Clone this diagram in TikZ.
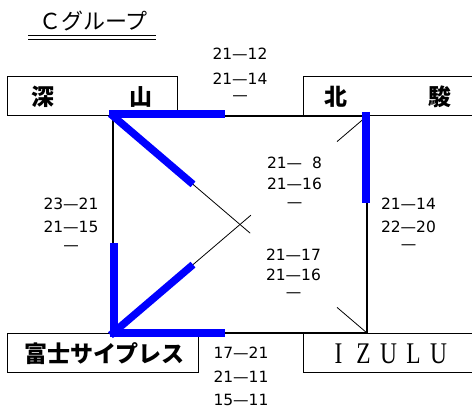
\documentclass[tikz,border=0pt]{standalone}
\usepackage{fontspec}
\newfontfamily\jp{Noto Sans CJK JP}
\newfontfamily\dv{DejaVu Sans}
\newfontfamily\ser{Liberation Serif}
\usetikzlibrary{calc}
\definecolor{winblue}{RGB}{0,0,255}
\newcommand{\izletter}[1]{\makebox[25pt]{\scalebox{0.78}[1]{#1}}}
\begin{document}
\begin{tikzpicture}[x=1pt,y=-1pt,
  sq/.style={line width=2pt},
  win/.style={line width=7.5pt, draw=winblue},
  thinln/.style={line width=0.8pt},
  team/.style={draw, line width=1pt, minimum height=39pt, inner sep=0pt,
    font=\jp\bfseries\fontsize{23}{23}\selectfont},
  sc/.style={inner sep=0pt, font=\dv\fontsize{15.5}{15.5}\selectfont}]
\useasboundingbox (0,0) rectangle (472,411);
% title
\node[inner sep=0pt, font=\jp\fontsize{22}{22}\selectfont] (title) at (93.5,21) {Ｃグループ};
\coordinate (ulA) at (28,35.5);
\coordinate (ulB) at (156,35.5);
\draw[line width=1.3pt] (ulA) -- (ulB);
\draw[line width=1.3pt] ($(ulA)+(0,4)$) -- ($(ulB)+(0,4)$);
% team boxes
\node[team, minimum width=170pt] (fuka) at (92,96.5) {深\hspace{74.5pt}山};
\node[team, minimum width=170pt] (hoku) at (388,96.5) {北\hspace{80.5pt}駿};
\node[team, minimum width=191pt] (fuji) at (102.5,353.5) {\hspace*{4pt}富士サイプレス};
\node[team, minimum width=170pt, font=\ser\fontsize{30}{30}\selectfont] (izulu) at (388.5,353.5)
  {\izletter{I}\izletter{Z}\izletter{U}\izletter{L}\izletter{U}};
% square corners
\coordinate (TL) at (113,116);
\coordinate (TR) at (367,116);
\coordinate (BL) at (113,333);
\coordinate (BR) at (367,333);
\draw[sq] (TL) -- (TR) -- (BR) -- (BL) -- cycle;
% thin diagonals
\draw[thinln] ($(TL)!0.3!(BR)$) -- ($(TL)!0.54!(BR)$);
\draw[thinln] ($(TL)!0.882!(BR)$) -- (BR);
\draw[thinln] ($(BL)!0.3!(TR)$) -- ($(BL)!0.543!(TR)$);
\draw[thinln] ($(BL)!0.882!(TR)$) -- (TR);
% winner lines
\draw[win] ($(TL)+(-4,-2)$) -- ($(TL)!0.44!(TR)+(0,-2)$);
\draw[win] ($(TL)!-0.01!(BR)$) -- ($(TL)!0.315!(BR)$);
\draw[win] ($(TR)+(-1,-4)$) -- ($(TR)!0.40!(BR)+(-1,0)$);
\draw[win] ($(BL)+(1,4)$) -- ($(BL)!0.415!(TL)+(1,0)$);
\draw[win] ($(BL)+(-3,0)$) -- ($(BL)!0.44!(BR)$);
\draw[win] ($(BL)!-0.01!(TR)$) -- ($(BL)!0.315!(TR)$);
% scores
\node[sc] (t1) at (240,53.5) {21—12};
\node[sc] (t2) at (240,78.5) {21—14};
\node[sc] (t3) at (240,98) {—};
\node[sc] (l1) at (71,204) {23—21};
\node[sc] (l2) at (71,227) {21—15};
\node[sc] (l3) at (71,248) {—};
\node[sc] (c1) at (294.5,163) {21—\phantom{1}8};
\node[sc] (c2) at (294.5,184) {21—16};
\node[sc] (c3) at (294.5,205) {—};
\node[sc] (d1) at (293.5,255) {21—17};
\node[sc] (d2) at (293.5,275) {21—16};
\node[sc] (d3) at (293.5,295) {—};
\node[sc] (r1) at (408.5,203.5) {21—14};
\node[sc] (r2) at (408.5,226.5) {22—20};
\node[sc] (r3) at (408.5,247) {—};
\node[sc] (b1) at (241,353) {17—21};
\node[sc] (b2) at (241,377) {21—11};
\node[sc] (b3) at (241,400) {15—11};
\end{tikzpicture}
\end{document}
